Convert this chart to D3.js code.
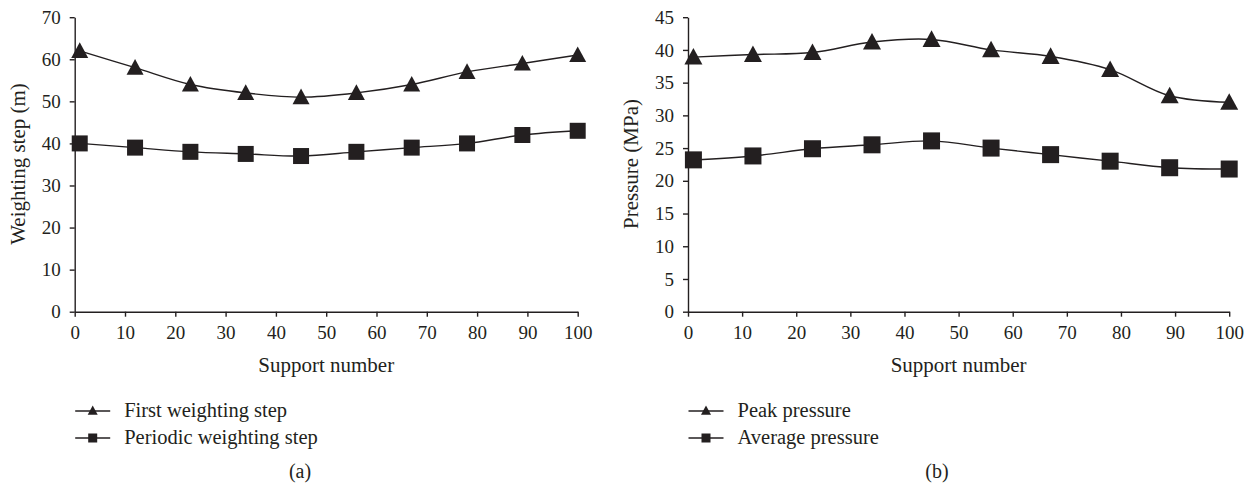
<!DOCTYPE html>
<html>
<head>
<meta charset="utf-8">
<script src="https://cdn.jsdelivr.net/npm/d3@7"></script>
<style>
  body { margin: 0; background: #fff; }
  svg text { font-family: "Liberation Serif", "DejaVu Serif", serif; fill: #231f20; }
  .axis path, .axis line { stroke: #231f20; stroke-width: 1.4; }
  .axis text { font-size: 19px; }
</style>
</head>
<body>
<script>
'use strict';

// support numbers (shared by both panels)
const supports = [1, 12, 23, 34, 45, 56, 67, 78, 89, 100];

// panel (a) weighting steps, m
const firstStep = [62, 58, 54, 52, 51, 52, 54, 57, 59, 61];
const periodicStep = [40, 39, 38, 37.5, 37, 38, 39, 40, 42, 43];

// panel (b) pressures, MPa
const peakPressure = [38.9, 39.3, 39.6, 41.2, 41.6, 40, 39, 37, 33, 32];
const avgPressure = [23.2, 23.8, 24.9, 25.5, 26.1, 25, 24, 23, 22, 21.8];

const xTicks = [0, 10, 20, 30, 40, 50, 60, 70, 80, 90, 100];
const yTicksA = [0, 10, 20, 30, 40, 50, 60, 70];
const yTicksB = [0, 5, 10, 15, 20, 25, 30, 35, 40, 45];

const ink = "#231f20";
const serif = "'Liberation Serif', 'DejaVu Serif', serif";

let svg = d3.select("body").append("svg")
  .attr("width", 1255)
  .attr("height", 487)
  .attr("font-family", serif);

// triangle marker centred a bit above its base
function triangle(s) {
  let h = s * 0.92;
  return "M0," + (-h * 0.55) + "L" + (s / 2) + "," + (h * 0.45) + "L" + (-s / 2) + "," + (h * 0.45) + "Z";
}

function drawPanel(opt) {
  let x = d3.scaleLinear().domain([0, 100]).range([opt.x0, opt.x1]);
  let y = d3.scaleLinear().domain([0, opt.yMax]).range([311.7, 17.2]);

  svg.append("g")
    .attr("class", "axis")
    .attr("transform", "translate(0,311.7)")
    .call(d3.axisBottom(x).tickValues(xTicks).tickSize(5).tickSizeOuter(0).tickPadding(9))
    .attr("font-family", serif)
    .call(g => g.selectAll("text").attr("dy", "0.71em"));

  svg.append("g")
    .attr("class", "axis")
    .attr("transform", "translate(" + opt.x0 + ",0)")
    .call(d3.axisLeft(y).tickValues(opt.yTicks).tickSize(5).tickSizeOuter(0).tickPadding(9))
    .attr("font-family", serif);

  let line = d3.line()
    .x((d, i) => x(supports[i]))
    .y(d => y(d))
    .curve(d3.curveCatmullRom.alpha(0.5));

  [opt.s1, opt.s2].forEach(s => {
    svg.append("path")
      .datum(s)
      .attr("d", line)
      .attr("fill", "none")
      .attr("stroke", ink)
      .attr("stroke-width", 1.4);
  });

  svg.append("g").selectAll("path")
    .data(opt.s1)
    .enter()
    .append("path")
    .attr("d", triangle(opt.mk + 1))
    .attr("transform", (d, i) => "translate(" + x(supports[i]) + "," + y(d) + ")")
    .attr("fill", ink);

  svg.append("g").selectAll("rect")
    .data(opt.s2)
    .enter()
    .append("rect")
    .attr("x", (d, i) => x(supports[i]) - opt.mk / 2)
    .attr("y", d => y(d) - opt.mk / 2)
    .attr("width", opt.mk)
    .attr("height", opt.mk)
    .attr("fill", ink);

  // axis titles
  svg.append("text")
    .attr("x", (opt.x0 + opt.x1) / 2)
    .attr("y", 371.5)
    .attr("text-anchor", "middle")
    .style("font-size", "21px")
    .text("Support number");

  svg.append("text")
    .attr("transform", "translate(" + opt.yTitleX + ",164)rotate(-90)")
    .attr("text-anchor", "middle")
    .style("font-size", "21px")
    .text(opt.yTitle);

  // legend
  let lx = opt.x0 + 0.5;
  [[opt.n1, "tri"], [opt.n2, "sq"]].forEach((item, i) => {
    let ly = 411 + i * 27;
    svg.append("line")
      .attr("x1", lx).attr("x2", lx + 35)
      .attr("y1", ly).attr("y2", ly)
      .attr("stroke", ink)
      .attr("stroke-width", 1.4);
    if (item[1] === "tri") {
      svg.append("path")
        .attr("d", triangle(10))
        .attr("transform", "translate(" + (lx + 17.5) + "," + (ly - 0.5) + ")")
        .attr("fill", ink);
    } else {
      svg.append("rect")
        .attr("x", lx + 17.5 - 4.5).attr("y", ly - 4.5)
        .attr("width", 9).attr("height", 9)
        .attr("fill", ink);
    }
    svg.append("text")
      .attr("x", lx + 49)
      .attr("y", ly + 5.5)
      .style("font-size", "20.5px")
      .text(item[0]);
  });

  svg.append("text")
    .attr("x", opt.tagX)
    .attr("y", 478)
    .attr("text-anchor", "middle")
    .style("font-size", "20px")
    .text(opt.tag);
}

drawPanel({
  x0: 74.7, x1: 577.7, yMax: 70, yTicks: yTicksA,
  s1: firstStep, s2: periodicStep, mk: 16,
  n1: "First weighting step", n2: "Periodic weighting step",
  yTitle: "Weighting step (m)", yTitleX: 25,
  tag: "(a)", tagX: 300
});

drawPanel({
  x0: 688, x1: 1229.2, yMax: 45, yTicks: yTicksB,
  s1: peakPressure, s2: avgPressure, mk: 17,
  n1: "Peak pressure", n2: "Average pressure",
  yTitle: "Pressure (MPa)", yTitleX: 638,
  tag: "(b)", tagX: 937
});
</script>
</body>
</html>
